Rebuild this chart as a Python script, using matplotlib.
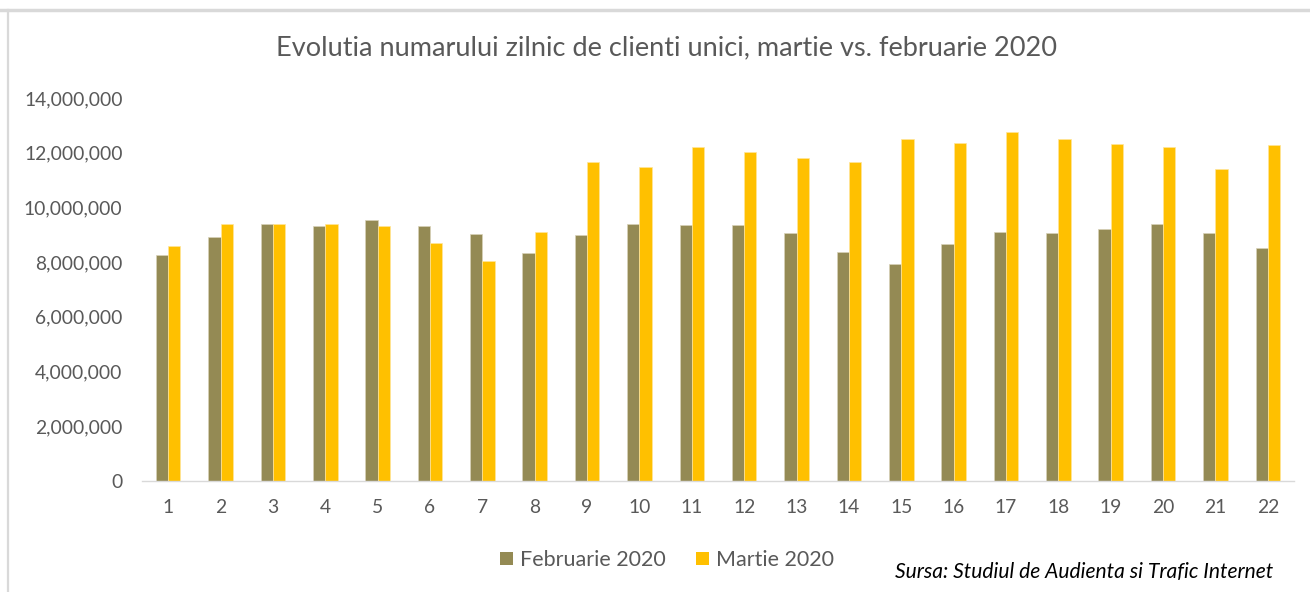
import matplotlib
matplotlib.use("Agg")
import matplotlib.pyplot as plt
from matplotlib.lines import Line2D
from matplotlib.patches import Patch
from matplotlib.ticker import FuncFormatter
import numpy as np

days = [str(i) for i in range(1, 23)]
feb_2020 = [8.26, 8.93, 9.41, 9.31, 9.55, 9.31, 9.03, 8.34, 8.99, 9.40, 9.37,
            9.37, 9.07, 8.38, 7.95, 8.66, 9.12, 9.07, 9.22, 9.40, 9.07, 8.52]
mar_2020 = [8.59, 9.41, 9.41, 9.41, 9.31, 8.69, 8.06, 9.12, 11.66, 11.47, 12.22,
            12.04, 11.81, 11.67, 12.50, 12.37, 12.74, 12.50, 12.32, 12.22, 11.42, 12.27]
feb_vals = [v * 1e6 for v in feb_2020]
mar_vals = [v * 1e6 for v in mar_2020]
series_names = ["Februarie 2020", "Martie 2020"]
title = "Evolutia numarului zilnic de clienti unici, martie vs. februarie 2020"
source = "Sursa: Studiul de Audienta si Trafic Internet"

FONT = ["Lato", "DejaVu Sans"]
plt.rcParams["font.family"] = FONT
GRAY = "#595959"
C_FEB = "#948A54"
C_MAR = "#FFC000"

W, H = 1310, 592
fig = plt.figure(figsize=(W / 100, H / 100), dpi=100)
fig.patch.set_facecolor("white")

ax = fig.add_axes([142 / W, 1 - 481 / H, (1294 - 142) / W, (481 - 98) / H])

x = np.arange(len(days))
bw = 0.235
ax.bar(x - bw / 2, feb_vals, width=bw, color=C_FEB, edgecolor="#d8d2b8", linewidth=0.5)
ax.bar(x + bw / 2, mar_vals, width=bw, color=C_MAR, edgecolor="#ffe59a", linewidth=0.5)

ax.set_xlim(-0.5, len(days) - 0.5)
ax.set_ylim(0, 14e6)
ax.set_yticks(np.arange(0, 14e6 + 1, 2e6))
ax.yaxis.set_major_formatter(FuncFormatter(lambda v, p: f"{int(v):,}"))
ax.set_xticks(x)
ax.set_xticklabels(days)
ax.tick_params(axis="both", length=0, labelsize=13.9, colors=GRAY)
ax.tick_params(axis="y", pad=14)
ax.tick_params(axis="x", pad=13)
for s in ["top", "right", "left"]:
    ax.spines[s].set_visible(False)
ax.spines["bottom"].set_color("#d9d9d9")
ax.spines["bottom"].set_linewidth(1.0)

fig.text(666 / W, 1 - 48 / H, title, ha="center", va="center", fontsize=19.5, color=GRAY)

handles = [Patch(facecolor=C_FEB, edgecolor="none"), Patch(facecolor=C_MAR, edgecolor="none")]
fig.legend(handles, series_names, loc="center", bbox_to_anchor=(667 / W, 1 - 560 / H),
           ncol=2, frameon=False, fontsize=15.5, labelcolor=GRAY,
           handlelength=0.6, handleheight=0.6, handletextpad=0.35, columnspacing=1.4)

fig.text(1273 / W, 1 - 572 / H, source, ha="right", va="center", fontsize=15.1,
         style="italic", color="black")

# outer chart border (cropped screenshot frame)
fig.add_artist(Line2D([0, 1], [1 - 10 / H, 1 - 10 / H], transform=fig.transFigure,
                      color="#d9d9d9", linewidth=2.5))
fig.add_artist(Line2D([7.5 / W, 7.5 / W], [0, 1 - 10 / H], transform=fig.transFigure,
                      color="#d9d9d9", linewidth=1.6))

fig.savefig("out.png", dpi=100)
